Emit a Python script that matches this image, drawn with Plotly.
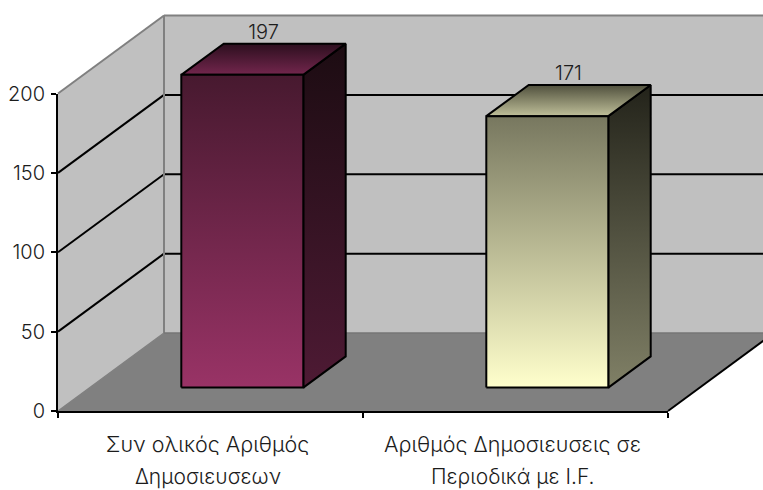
import plotly.graph_objects as go

# Chart data
label_line1 = ["Συν ολικός Αριθμός", "Αριθμός Δημοσιευσεις σε"]
label_line2 = ["Δημοσιευσεων", "Περιοδικά με I.F."]
values = [197, 171]
value_ticks = [0, 50, 100, 150, 200]
category_edges = [0, 1, 2]
category_centers = [0.5, 1.5]

# Oblique projection settings (depth 0 = front plane, 1 = back wall)
W, H = 763, 490
X0_PX, Y0_PX = 58, 411
PX_PER_CAT, PX_PER_VAL = 305, 1.5875
DEPTH_DX = 106 / PX_PER_CAT
DEPTH_DY = 78 / PX_PER_VAL
BAR_WIDTH, BAR_D0, BAR_D1 = 0.4, 0.3, 0.7
FONT = "Inter"
TEXT = "#1c1c1c"
WEIGHT = 300


def project(x, v, d):
    return x + d * DEPTH_DX, v + d * DEPTH_DY


def poly(points, fill=None, gradient=None, line="rgba(0,0,0,0)", width=2):
    pts = [project(*p) for p in points] + [project(*points[0])]
    tr = dict(x=[p[0] for p in pts], y=[p[1] for p in pts], mode="lines", fill="toself",
              line=dict(color=line, width=width), hoverinfo="skip", showlegend=False)
    if gradient:
        # colorscale position 0 is the lower edge of the filled shape
        tr["fillgradient"] = dict(type="vertical", colorscale=[[0, gradient[1]], [1, gradient[0]]])
    else:
        tr["fillcolor"] = fill
    return go.Scatter(**tr)


def segment(p, q, color, width):
    a, b = project(*p), project(*q)
    return go.Scatter(x=[a[0], b[0]], y=[a[1], b[1]], mode="lines", hoverinfo="skip",
                      showlegend=False, line=dict(color=color, width=width))


fig = go.Figure()
vmax, xmax = max(value_ticks), max(category_edges)

# Walls and floor
fig.add_trace(poly([(0, 0, 1), (xmax, 0, 1), (xmax, vmax, 1), (0, vmax, 1)], fill="#C0C0C0"))
fig.add_trace(poly([(0, 0, 0), (0, 0, 1), (0, vmax, 1), (0, vmax, 0)], fill="#C0C0C0"))
fig.add_trace(poly([(0, 0, 0), (xmax, 0, 0), (xmax, 0, 1), (0, 0, 1)], fill="#808080"))

# Gridlines run along the side wall and across the back wall
for v in value_ticks[1:-1]:
    fig.add_trace(segment((0, v, 0), (0, v, 1), "#000000", 2))
    fig.add_trace(segment((0, v, 1), (xmax, v, 1), "#000000", 2))
fig.add_trace(segment((0, vmax, 0), (0, vmax, 1), "#808080", 2))
fig.add_trace(segment((0, vmax, 1), (xmax, vmax, 1), "#808080", 2))
fig.add_trace(segment((0, 0, 1), (0, vmax, 1), "#808080", 2))
fig.add_trace(segment((0, 0, 0), (0, 0, 1), "#808080", 1.5))
fig.add_trace(segment((0, 0, 1), (xmax, 0, 1), "#767676", 1.5))
fig.add_trace(segment((xmax, 0, 0), (xmax, 0, 1), "#000000", 2))

# Gradient stops: front, side, top (upper colour, lower colour)
bar_shades = [
    {"front": ("#47192F", "#993366"), "side": ("#1C0C12", "#4E1A34"), "top": ("#2C0F1E", "#73264D")},
    {"front": ("#77775F", "#FFFFCC"), "side": ("#23231A", "#808066"), "top": ("#50503D", "#BFBF99")},
]

for center, val, shade in zip(category_centers, values, bar_shades):
    l, r = center - BAR_WIDTH / 2, center + BAR_WIDTH / 2
    fig.add_trace(poly([(r, 0, BAR_D0), (r, 0, BAR_D1), (r, val, BAR_D1), (r, val, BAR_D0)],
                       gradient=shade["side"], line="#000000"))
    fig.add_trace(poly([(l, val, BAR_D0), (r, val, BAR_D0), (r, val, BAR_D1), (l, val, BAR_D1)],
                       gradient=shade["top"], line="#000000"))
    fig.add_trace(poly([(l, 0, BAR_D0), (r, 0, BAR_D0), (r, val, BAR_D0), (l, val, BAR_D0)],
                       gradient=shade["front"], line="#000000"))
    px, py = project(center, val, BAR_D1)
    lx, _ = project(center, val, 0.5)
    fig.add_trace(go.Scatter(x=[lx], y=[py], mode="text", text=[str(val)], textposition="top center",
                             textfont=dict(family=FONT, size=20, color=TEXT, weight=WEIGHT),
                             hoverinfo="skip", showlegend=False))

# Real value and category axes sit on the front plane, above the drawing layer
axis_common = dict(showgrid=False, zeroline=False, showline=True, linecolor="#000000", linewidth=2,
                   automargin=False)
ann = []
for c, line2 in zip(category_centers, label_line2):
    ann.append(dict(x=c, xref="x2", xshift=-3, y=0, yref="paper", text=line2, showarrow=False,
                    xanchor="center", yanchor="bottom", borderpad=0,
                    font=dict(family=FONT, size=21, color=TEXT, weight=WEIGHT)))

fig.update_layout(
    template="none",
    width=W, height=H, margin=dict(l=0, r=0, t=0, b=0), autosize=False,
    paper_bgcolor="#FFFFFF", plot_bgcolor="rgba(0,0,0,0)", showlegend=False,
    xaxis=dict(domain=[0, 1], range=[-X0_PX / PX_PER_CAT, (W - X0_PX) / PX_PER_CAT],
               visible=False, fixedrange=True, automargin=False),
    yaxis=dict(domain=[0, 1], range=[(Y0_PX - H) / PX_PER_VAL, Y0_PX / PX_PER_VAL],
               visible=False, fixedrange=True, automargin=False),
    xaxis2=dict(domain=[X0_PX / W, (X0_PX + xmax * PX_PER_CAT) / W], range=[0, xmax], anchor="y2",
                tickmode="array", tickvals=category_centers, ticktext=label_line1, ticks="",
                ticklabelstandoff=13, ticklabelshift=-3,
                tickfont=dict(family=FONT, size=21.5, color=TEXT, weight=WEIGHT),
                minor=dict(tickmode="array", tickvals=category_edges, ticks="outside", ticklen=5,
                           tickwidth=2, tickcolor="#000000"),
                **axis_common),
    yaxis2=dict(domain=[(H - Y0_PX) / H, (H - Y0_PX + vmax * PX_PER_VAL) / H], range=[0, vmax],
                anchor="x2", tickmode="array", tickvals=value_ticks, ticks="outside", ticklen=5,
                tickwidth=2, tickcolor="#000000", ticklabelstandoff=2,
                tickfont=dict(family=FONT, size=20, color=TEXT, weight=WEIGHT), **axis_common),
    annotations=ann,
)

fig.write_html("out.html", config=dict(displayModeBar=False))
